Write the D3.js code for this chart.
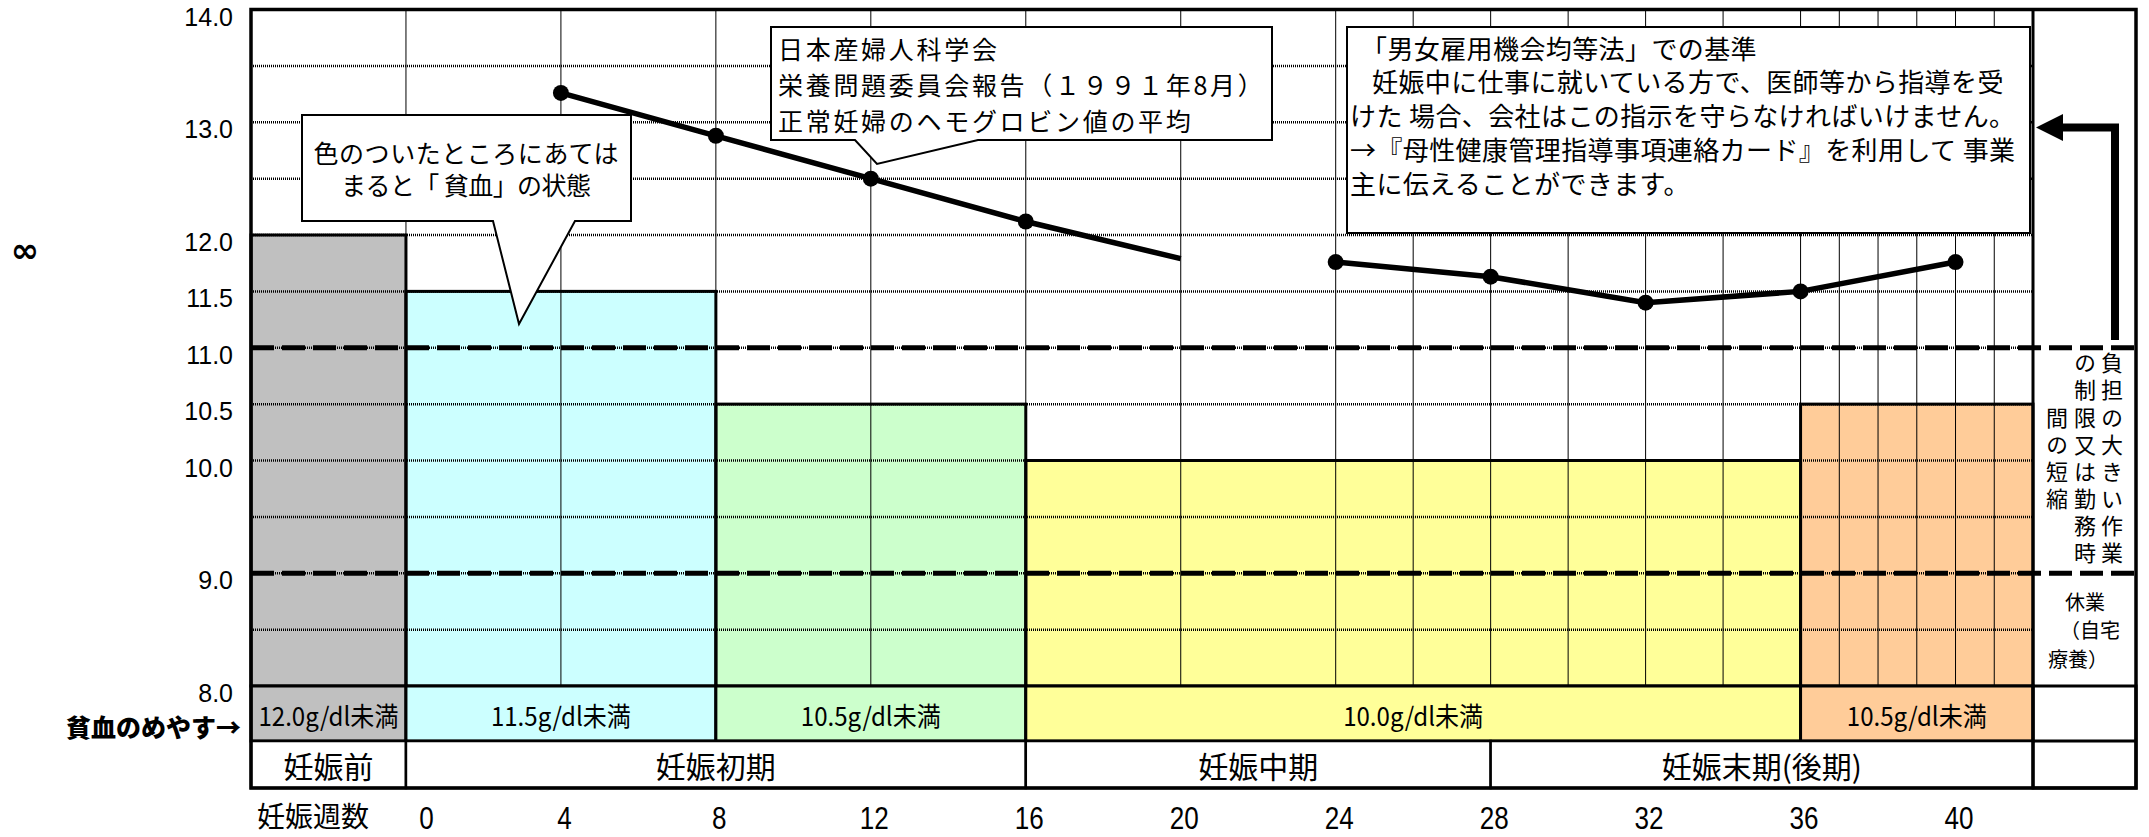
<!DOCTYPE html>
<html>
<head>
<meta charset="utf-8">
<title>妊娠中の貧血のめやす</title>
<script src="https://d3js.org/d3.v7.min.js" charset="utf-8"></script>
<style>
  body { margin: 0; background: white; }
  svg { display: block; font-family: "Noto Sans CJK JP", sans-serif; }
</style>
</head>
<body>
<script>
// ---- data ----
var bandStart  = [-4, 0, 8, 16, 36];
var bandEnd    = [0, 8, 16, 36, 42];
var bandLimit  = [12.0, 11.5, 10.5, 10.0, 10.5];
var bandLabels = ["12.0g/dl未満", "11.5g/dl未満", "10.5g/dl未満", "10.0g/dl未満", "10.5g/dl未満"];
var bandColors = ["#c0c0c0", "#ccffff", "#ccffcc", "#ffff99", "#ffcc99"];

var periodNames = ["妊娠前", "妊娠初期", "妊娠中期", "妊娠末期(後期)"];
var periodStart = [-4, 0, 16, 28];
var periodEnd   = [0, 16, 28, 42];

var weekTicks = [0, 4, 8, 12, 16, 20, 24, 28, 32, 36, 40];
var hbTicks = [14, 13, 12, 11.5, 11, 10.5, 10, 9, 8];

// average Hb of normal pregnancy, drawn in two pieces
var earlyWeeks = [4, 8, 12, 16, 20];
var earlyHb    = [13.26, 12.88, 12.50, 12.12, 11.79];
var lateWeeks  = [24, 28, 32, 36, 40];
var lateHb     = [11.76, 11.63, 11.40, 11.50, 11.76];

var workLimits = [11.0, 9.0];

var note1 = ["色のついたところにあては", "まると「 貧血」の状態"];
var note2 = ["日本産婦人科学会", "栄養問題委員会報告（１９９１年8月）", "正常妊婦のヘモグロビン値の平均"];
var note3 = ["「男女雇用機会均等法」での基準",
             "妊娠中に仕事に就いている方で、医師等から指導を受",
             "けた 場合、会社はこの指示を守らなければいけません。",
             "→『母性健康管理指導事項連絡カード』を利用して 事業",
             "主に伝えることができます。"];
var sideCols = ["負担の大きい作業", "の制限又は勤務時", "間の短縮"];
var restLines = ["休業", "（自宅", "療養）"];

// ---- layout ----
var width = 2149, height = 837;
var rightEdge = 2136;
var row1Top = 686, row1Bot = 741, row2Bot = 788;

var svg = d3.select("body").append("svg")
    .attr("width", width)
    .attr("height", height);

var x = d3.scaleLinear().domain([-4, 42]).range([251, 2033]);
var y = d3.scaleLinear().domain([8, 14]).range([686, 9.5]);

var bands = bandStart.map(function(s, i) {
    return {s: s, e: bandEnd[i], v: bandLimit[i], label: bandLabels[i], color: bandColors[i]};
});

// bars
svg.append("g").selectAll("rect")
    .data(bands)
    .enter()
    .append("rect")
    .attr("x", function(d) { return x(d.s); })
    .attr("y", function(d) { return y(d.v); })
    .attr("width", function(d) { return x(d.e) - x(d.s); })
    .attr("height", function(d) { return y(8) - y(d.v); })
    .attr("fill", function(d) { return d.color; });

// grid
var grid = svg.append("g");
grid.selectAll("line.h")
    .data(d3.range(8.5, 14, 0.5))
    .enter()
    .append("line")
    .attr("x1", x(-4)).attr("x2", x(42))
    .attr("y1", function(d) { return y(d); })
    .attr("y2", function(d) { return y(d); })
    .attr("stroke", "#000")
    .attr("stroke-width", 2.5)
    .attr("stroke-dasharray", "1,1");

var vWeeks = d3.range(0, 24, 4).concat(d3.range(24, 36, 2), d3.range(36, 42, 1));
grid.selectAll("line.v")
    .data(vWeeks)
    .enter()
    .append("line")
    .attr("x1", function(d) { return x(d); })
    .attr("x2", function(d) { return x(d); })
    .attr("y1", y(14)).attr("y2", y(8))
    .attr("stroke", "#000")
    .attr("stroke-width", 1);

// bar outlines
svg.append("g").selectAll("rect")
    .data(bands)
    .enter()
    .append("rect")
    .attr("x", function(d) { return x(d.s); })
    .attr("y", function(d) { return y(d.v); })
    .attr("width", function(d) { return x(d.e) - x(d.s); })
    .attr("height", function(d) { return y(8) - y(d.v); })
    .attr("fill", "none")
    .attr("stroke", "#000")
    .attr("stroke-width", 3);

// work limit dashed lines
svg.append("g").selectAll("line")
    .data(workLimits)
    .enter()
    .append("line")
    .attr("x1", x(-4)).attr("x2", rightEdge)
    .attr("y1", function(d) { return y(d); })
    .attr("y2", function(d) { return y(d); })
    .attr("stroke", "#000")
    .attr("stroke-width", 5)
    .attr("stroke-dasharray", "23,8");

// Hb line
var line = d3.line()
    .x(function(d) { return x(d[0]); })
    .y(function(d) { return y(d[1]); });
var early = earlyWeeks.map(function(w, i) { return [w, earlyHb[i]]; });
var late = lateWeeks.map(function(w, i) { return [w, lateHb[i]]; });

svg.append("g").selectAll("path")
    .data([early, late])
    .enter()
    .append("path")
    .attr("d", line)
    .attr("fill", "none")
    .attr("stroke", "#000")
    .attr("stroke-width", 5.5);

svg.append("g").selectAll("circle")
    .data(early.slice(0, 4).concat(late))
    .enter()
    .append("circle")
    .attr("cx", function(d) { return x(d[0]); })
    .attr("cy", function(d) { return y(d[1]); })
    .attr("r", 8)
    .attr("fill", "#000");

// callouts
var notes = svg.append("g")
    .attr("fill", "#fff")
    .attr("stroke", "#000")
    .attr("stroke-width", 2);
notes.append("path")
    .attr("d", "M302,115 H631 V221 H575 L519,324 L493,221 H302 Z");
notes.append("path")
    .attr("d", "M771,27 H1272 V140 H978 L877,164 L855,140 H771 Z");
notes.append("rect")
    .attr("x", 1347).attr("y", 27).attr("width", 683).attr("height", 206);

svg.append("g").selectAll("text")
    .data(note1)
    .enter()
    .append("text")
    .attr("x", 466)
    .attr("y", function(d, i) { return 152 + i * 32; })
    .attr("text-anchor", "middle")
    .attr("dominant-baseline", "central")
    .attr("font-size", 25)
    .attr("textLength", function(d, i) { return i === 0 ? 305 : 250; })
    .attr("lengthAdjust", "spacing")
    .text(function(d) { return d; });

svg.append("g").selectAll("text")
    .data(note2)
    .enter()
    .append("text")
    .attr("x", 778)
    .attr("y", function(d, i) { return 48 + i * 36; })
    .attr("dominant-baseline", "central")
    .attr("font-size", 25)
    .attr("letter-spacing", 2.7)
    .text(function(d) { return d; });

svg.append("g").selectAll("text")
    .data(note3)
    .enter()
    .append("text")
    .attr("x", function(d, i) { return i === 0 ? 1361 : (i === 1 ? 1372 : 1350); })
    .attr("y", function(d, i) { return 47 + i * 33.8; })
    .attr("dominant-baseline", "central")
    .attr("font-size", 26)
    .attr("letter-spacing", 0.4)
    .text(function(d) { return d; });

// table rows
var table = svg.append("g");
table.selectAll("rect.b")
    .data(bands)
    .enter()
    .append("rect")
    .attr("x", function(d) { return x(d.s); })
    .attr("y", row1Top)
    .attr("width", function(d) { return x(d.e) - x(d.s); })
    .attr("height", row1Bot - row1Top)
    .attr("fill", function(d) { return d.color; })
    .attr("stroke", "#000")
    .attr("stroke-width", 3);
table.selectAll("text.b")
    .data(bands)
    .enter()
    .append("text")
    .attr("x", function(d) { return (x(d.s) + x(d.e)) / 2; })
    .attr("y", (row1Top + row1Bot) / 2 + 1)
    .attr("text-anchor", "middle")
    .attr("dominant-baseline", "central")
    .attr("font-size", 26)
    .attr("textLength", 140)
    .attr("lengthAdjust", "spacingAndGlyphs")
    .text(function(d) { return d.label; });

var periods = periodNames.map(function(n, i) { return {n: n, s: periodStart[i], e: periodEnd[i]}; });
table.selectAll("rect.p")
    .data(periods)
    .enter()
    .append("rect")
    .attr("x", function(d) { return x(d.s); })
    .attr("y", row1Bot)
    .attr("width", function(d) { return x(d.e) - x(d.s); })
    .attr("height", row2Bot - row1Bot)
    .attr("fill", "#fff")
    .attr("stroke", "#000")
    .attr("stroke-width", 2.5);
table.selectAll("text.p")
    .data(periods)
    .enter()
    .append("text")
    .attr("x", function(d) { return (x(d.s) + x(d.e)) / 2; })
    .attr("y", (row1Bot + row2Bot) / 2)
    .attr("text-anchor", "middle")
    .attr("dominant-baseline", "central")
    .attr("font-size", 30)
    .text(function(d) { return d.n; });

// right column + frame
table.append("rect")
    .attr("x", x(42)).attr("y", row1Top)
    .attr("width", rightEdge - x(42)).attr("height", row2Bot - row1Top)
    .attr("fill", "none").attr("stroke", "#000").attr("stroke-width", 3);
table.append("line")
    .attr("x1", x(42)).attr("x2", rightEdge).attr("y1", row1Bot).attr("y2", row1Bot)
    .attr("stroke", "#000").attr("stroke-width", 3);
table.append("line")
    .attr("x1", x(42)).attr("x2", x(42)).attr("y1", y(14)).attr("y2", row2Bot)
    .attr("stroke", "#000").attr("stroke-width", 3);
table.append("rect")
    .attr("x", x(-4)).attr("y", y(14))
    .attr("width", rightEdge - x(-4)).attr("height", row2Bot - y(14))
    .attr("fill", "none").attr("stroke", "#000").attr("stroke-width", 3.5);

// vertical side texts (one text per column, written top to bottom)
var colX = [2112, 2085, 2057];
var colStartRow = [0, 0, 2];
svg.append("g").selectAll("text")
    .data(sideCols)
    .enter()
    .append("text")
    .attr("x", function(d, i) { return colX[i]; })
    .attr("y", function(d, i) { return 352 + colStartRow[i] * 27.1; })
    .style("writing-mode", "vertical-rl")
    .attr("font-size", 22)
    .attr("letter-spacing", 5.1)
    .text(function(d) { return d; });

// 休業（自宅療養）
svg.append("g").selectAll("text")
    .data(restLines)
    .enter()
    .append("text")
    .attr("x", function(d, i) { return [2085, 2090, 2078][i]; })
    .attr("y", function(d, i) { return 601 + i * 28.5; })
    .attr("text-anchor", "middle")
    .attr("dominant-baseline", "central")
    .attr("font-size", 20)
    .text(function(d) { return d; });

// arrow from side column
svg.append("path")
    .attr("d", "M2115,340 V127.5 H2058")
    .attr("fill", "none").attr("stroke", "#000").attr("stroke-width", 8);
svg.append("path")
    .attr("d", "M2036,127.5 L2063,114 L2063,141 Z")
    .attr("fill", "#000");

// axes
var yAxis = svg.append("g")
    .attr("transform", "translate(" + x(-4) + ",0)")
    .call(d3.axisLeft(y).tickValues(hbTicks).tickFormat(d3.format(".1f")).tickSize(0).tickPadding(18));
yAxis.select(".domain").remove();
yAxis.selectAll("text")
    .attr("font-family", "Liberation Sans, Arial, sans-serif")
    .attr("font-size", 25)
    .attr("fill", "#000")
    .attr("dy", "0.62em");

var xAxis = svg.append("g")
    .attr("transform", "translate(0," + row2Bot + ")")
    .call(d3.axisBottom(x).tickValues(weekTicks).tickSize(0).tickPadding(19));
xAxis.select(".domain").remove();
xAxis.selectAll("text")
    .attr("font-family", "Liberation Sans, Arial, sans-serif")
    .attr("font-size", 31)
    .attr("fill", "#000")
    .attr("textLength", function(d) { return String(d).length * 14.5; })
    .attr("lengthAdjust", "spacingAndGlyphs")
    .attr("dx", function(d) { return d === 0 ? 20 : 3; });

svg.append("text")
    .attr("x", 257).attr("y", 815)
    .attr("dominant-baseline", "central")
    .attr("font-size", 28)
    .text("妊娠週数");

svg.append("text")
    .attr("x", 241).attr("y", 726)
    .attr("text-anchor", "end")
    .attr("dominant-baseline", "central")
    .attr("font-size", 25)
    .attr("font-weight", 900)
    .text("貧血のめやす→");

svg.append("text")
    .attr("x", 25).attr("y", 250)
    .attr("text-anchor", "middle")
    .attr("dominant-baseline", "central")
    .attr("font-family", "DejaVu Sans, sans-serif")
    .attr("font-weight", "bold")
    .attr("font-size", 34)
    .text("∞");
</script>
</body>
</html>
